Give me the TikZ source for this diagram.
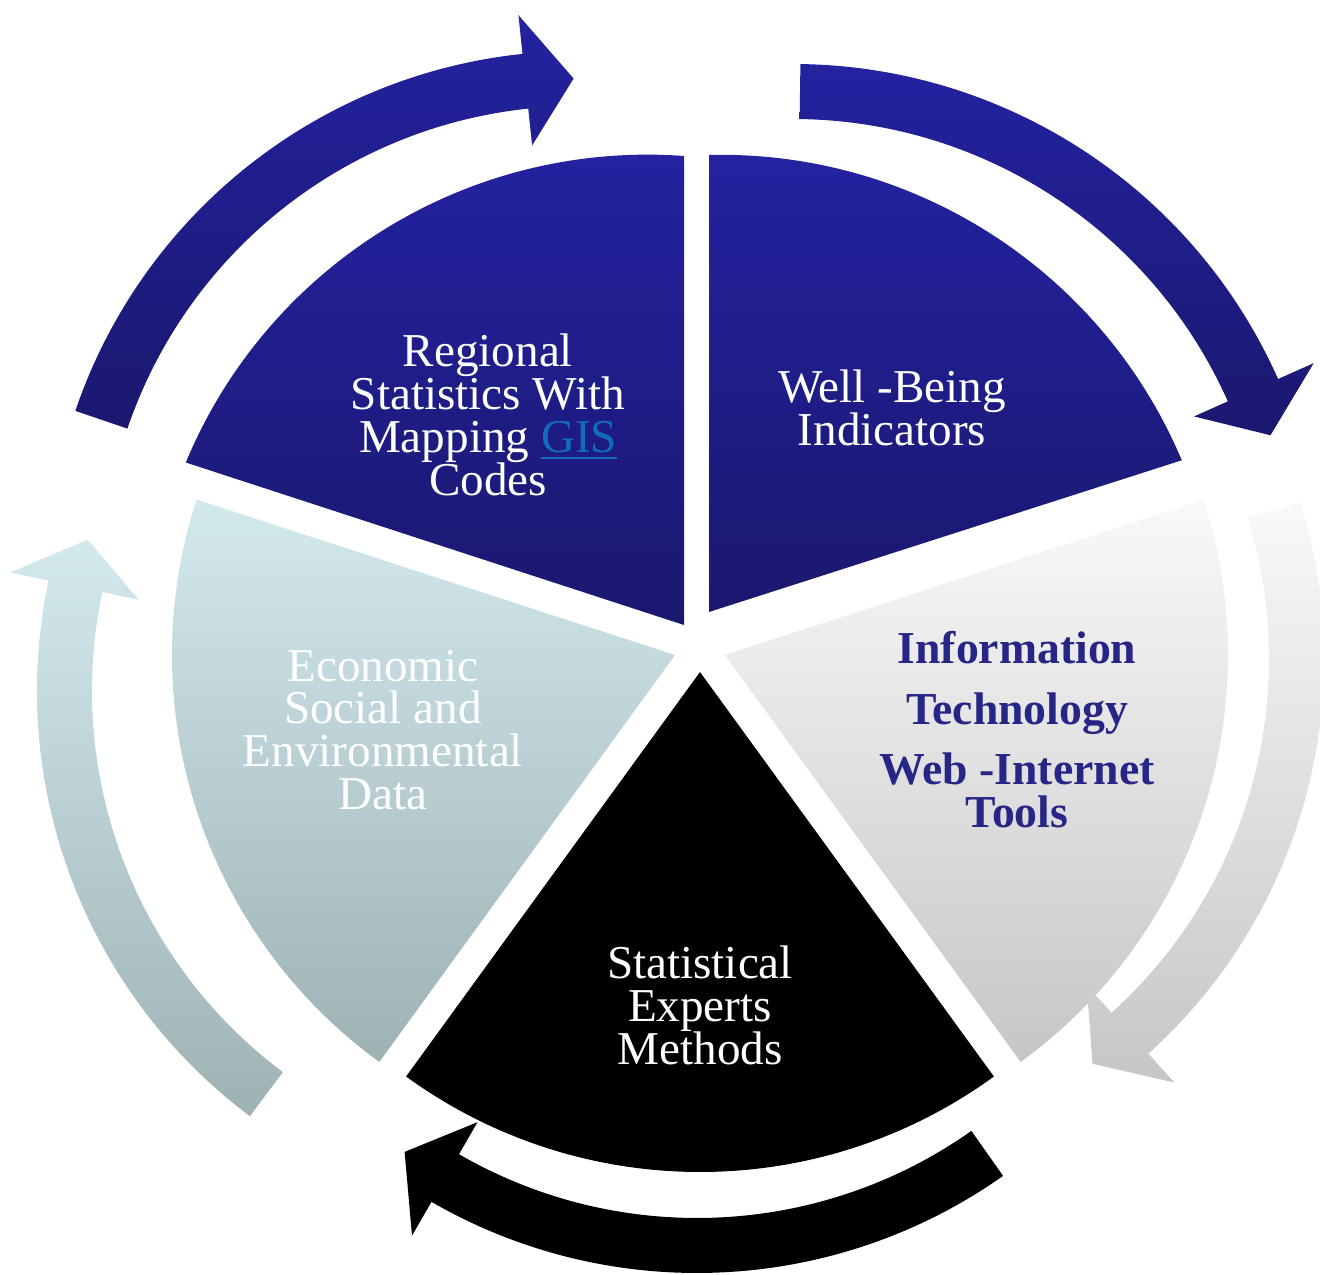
\documentclass[tikz,border=0pt]{standalone}
\usepackage{fontspec}
\setmainfont{Liberation Serif}

\definecolor{navytop}{RGB}{36,34,160}
\definecolor{navybot}{RGB}{26,24,110}
\definecolor{greytop}{RGB}{249,249,249}
\definecolor{greybot}{RGB}{198,198,198}
\definecolor{icetop}{RGB}{210,233,238}
\definecolor{icebot}{RGB}{158,178,180}
\definecolor{linkblue}{RGB}{18,108,190}
\definecolor{inktext}{RGB}{38,38,135}

% circular arrow: centre, middle angle, style
\newcommand{\cyclearrow}[3]{%
  \begin{scope}[shift={(#1)}]
    \path[#3] (#2+35.2:476) -- (#2+35.2:531)
      arc[start angle=#2+35.2, end angle=#2-30, radius=531]
      -- (#2-30:570) -- (#2-35.5:503.5) -- (#2-30:439) -- (#2-30:476)
      arc[start angle=#2-30, end angle=#2+35.2, radius=476] -- cycle;
  \end{scope}}

\begin{document}
\begin{tikzpicture}[x=0.01cm, y=0.01cm,
    navyfill/.style={top color=navytop, bottom color=navybot},
    greyfill/.style={top color=greytop, bottom color=greybot},
    icefill/.style={top color=icetop, bottom color=icebot},
    inkfill/.style={fill=black},
    wedgetext/.style={align=center, text=white, font=\fontsize{13.4}{12.2}\selectfont}]
    \useasboundingbox (0,0) rectangle (1320,1275);

    % segments
    \path[navyfill] (684,650) -- (684,1119) arc[start angle=85.8, end angle=157.4, radius=500] -- cycle;
    \path[navyfill] (709,663) -- (709,1120) arc[start angle=91.4, end angle=22.9, radius=500] -- cycle;
    \path[greyfill] (725,620) -- ++(18:503) arc[start angle=18, end angle=-54, radius=503] -- cycle;
    \path[inkfill] (700,603) -- ++(-54:500) arc[start angle=-54, end angle=-126, radius=500] -- cycle;
    \path[icefill] (675,620) -- ++(234:503) arc[start angle=234, end angle=162, radius=503] -- cycle;

    % arrows round the cycle
    \cyclearrow{578,693}{126}{navyfill}
    \cyclearrow{793,680}{54}{navyfill}
    \cyclearrow{793,616}{342}{greyfill}
    \cyclearrow{697,533}{270}{inkfill}
    \cyclearrow{568,584}{198}{icefill}

    % labels
    \node (regional) [wedgetext] at (488,860) {Regional\\Statistics With\\Mapping \textcolor{linkblue}{\underline{GIS}}\\Codes};
    \node (wellbeing) [wedgetext] at (892,867) {Well -Being\\Indicators};
    \node (infotech) [wedgetext, text=inktext, font=\bfseries\fontsize{13}{12.2}\selectfont] at (1017,545) {Information\\[5pt]Technology\\[5pt]Web -Internet\\Tools};
    \node (experts) [wedgetext] at (700,270) {Statistical\\Experts\\Methods};
    \node (economic) [wedgetext] at (383,545) {Economic\\Social and\\Environmental\\Data};
\end{tikzpicture}
\end{document}
